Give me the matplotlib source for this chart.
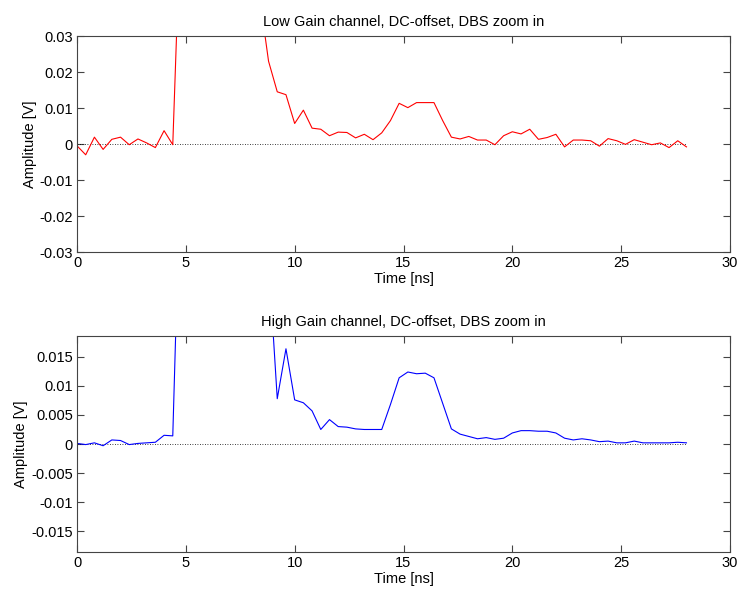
import numpy as np
import matplotlib
matplotlib.use("Agg")
import matplotlib.pyplot as plt

plt.rcParams['font.family'] = ['Liberation Sans', 'DejaVu Sans']

# sample times [ns]
time_ns = [round(0.4 * i, 1) for i in range(71)]

low_gain = [
    -0.0005, -0.0030, 0.0019, -0.0015, 0.0013, 0.0019, -0.0002, 0.0014, 0.0003, -0.0010,
    0.0037, -0.0002, 0.0700, 0.2000, 0.3500, 0.4000, 0.3800, 0.3000, 0.2000, 0.1200,
    0.0700, 0.0405, 0.0230, 0.0145, 0.0137, 0.0057, 0.0094, 0.0044, 0.0041, 0.0023,
    0.0033, 0.0032, 0.0017, 0.0027, 0.0012, 0.0031, 0.0065, 0.0113, 0.0101, 0.0115,
    0.0115, 0.0115, 0.0065, 0.0019, 0.0014, 0.0021, 0.0011, 0.0011, -0.0002, 0.0023,
    0.0034, 0.0028, 0.0041, 0.0013, 0.0018, 0.0027, -0.0008, 0.0011, 0.0011, 0.0009,
    -0.0006, 0.0015, 0.0009, -0.0001, 0.0012, 0.0005, -0.0002, 0.0003, -0.0010, 0.0009,
    -0.0008,
]

high_gain = [
    0.0001, -0.0001, 0.0002, -0.0003, 0.0007, 0.0006, -0.0001, 0.0001, 0.0002, 0.0003,
    0.0015, 0.0014, 0.0540, 0.1200, 0.2000, 0.2500, 0.2400, 0.2000, 0.1500, 0.1000,
    0.0700, 0.0500, 0.0318, 0.0078, 0.0164, 0.0076, 0.0071, 0.0057, 0.0025, 0.0042,
    0.0030, 0.0029, 0.0026, 0.0025, 0.0025, 0.0025, 0.0068, 0.0114, 0.0124, 0.0121,
    0.0122, 0.0114, 0.0070, 0.0026, 0.0017, 0.0013, 0.0009, 0.0011, 0.0008, 0.0010,
    0.0019, 0.0023, 0.0023, 0.0022, 0.0022, 0.0019, 0.0010, 0.0007, 0.0009, 0.0007,
    0.0004, 0.0005, 0.0002, 0.0002, 0.0005, 0.0002, 0.0002, 0.0002, 0.0002, 0.0003,
    0.0002,
]

x_ticks = [0, 5, 10, 15, 20, 25, 30]
top_yticks = [-0.03, -0.02, -0.01, 0, 0.01, 0.02, 0.03]
top_ylabels = ['-0.03', '-0.02', '-0.01', '0', '0.01', '0.02', '0.03']
bot_yticks = [-0.015, -0.01, -0.005, 0, 0.005, 0.01, 0.015]
bot_ylabels = ['-0.015', '-0.01', '-0.005', '0', '0.005', '0.01', '0.015']

titles = ['Low Gain channel, DC-offset, DBS zoom in',
          'High Gain channel, DC-offset, DBS zoom in']

fig = plt.figure(figsize=(7.38, 5.93), dpi=100)
W, H = 738, 593
ax1 = fig.add_axes([77 / W, (H - 252) / H, 653 / W, 216 / H])
ax2 = fig.add_axes([77 / W, (H - 552) / H, 653 / W, 216 / H])

fs = 10.5
for ax, y, col, yt, yl, ylim, title in [
    (ax1, low_gain, 'red', top_yticks, top_ylabels, (-0.03, 0.03), titles[0]),
    (ax2, high_gain, 'blue', bot_yticks, bot_ylabels, (-0.0186, 0.0186), titles[1]),
]:
    ax.plot([time_ns[0], time_ns[-1]], [0, 0], color='black', linestyle=(0, (1, 2)), lw=0.6)
    ax.plot(time_ns, y, color=col, lw=0.8)
    ax.set_xlim(0, 30)
    ax.set_ylim(*ylim)
    ax.set_xticks(x_ticks)
    ax.set_xticklabels([str(v) for v in x_ticks], fontsize=fs)
    ax.set_yticks(yt)
    ax.set_yticklabels(yl, fontsize=fs)
    ax.tick_params(direction='in', top=True, right=True, length=5, width=0.8,
                   color='#444444', pad=3)
    for s in ax.spines.values():
        s.set_color('#444444')
        s.set_linewidth(0.8)
    ax.set_xlabel('Time [ns]', fontsize=fs, labelpad=1)
    ax.set_ylabel('Amplitude [V]', fontsize=fs, labelpad=2)
    ax.set_title(title, fontsize=fs, pad=7)

fig.savefig('out.png', dpi=100)
